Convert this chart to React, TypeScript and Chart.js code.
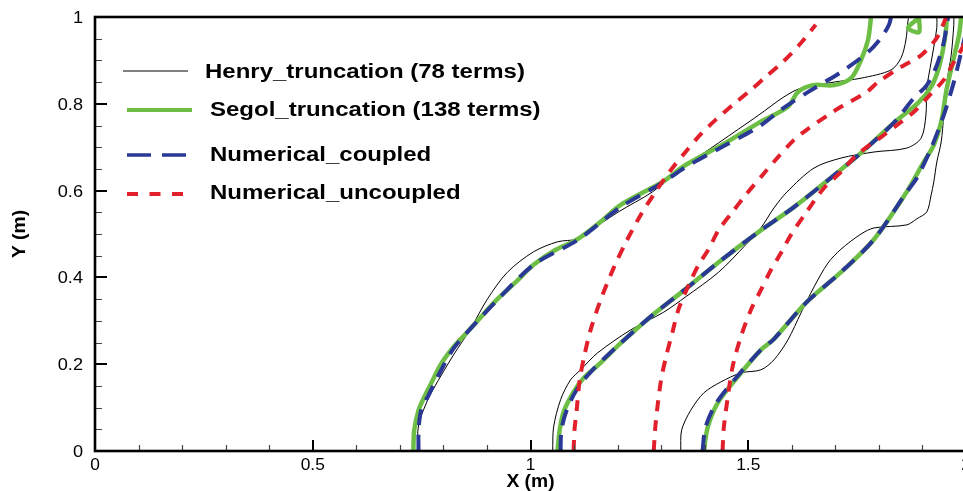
import { useEffect, useRef } from 'react';
import { Chart, registerables } from 'chart.js';

Chart.register(...registerables);

type P = [number, number];

// ---------- tick labels ----------
const xTickValues = [0, 0.5, 1, 1.5, 2];
const xTickLabels = ['0', '0.5', '1', '1.5', '2'];
const yTickValues = [0, 0.2, 0.4, 0.6, 0.8, 1];
const yTickLabels = ['0', '0.2', '0.4', '0.6', '0.8', '1'];

const seriesNames = [
  'Henry_truncation (78 terms)',
  'Segol_truncation (138 terms)',
  'Numerical_coupled',
  'Numerical_uncoupled',
];

// ---------- Henry_truncation (78 terms) ----------
const henry1: P[] = [[0.740, 0], [0.743, 0.060], [0.759, 0.106], [0.777, 0.143], [0.823, 0.221], [0.862, 0.281], [0.901, 0.350], [0.947, 0.412], [1.007, 0.459], [1.062, 0.482], [1.108, 0.488], [1.126, 0.500], [1.202, 0.551], [1.280, 0.597], [1.349, 0.652], [1.432, 0.710], [1.524, 0.774], [1.582, 0.816], [1.621, 0.836], [1.697, 0.850], [1.759, 0.859], [1.828, 0.878], [1.851, 0.906], [1.862, 0.947], [1.867, 0.993], [1.869, 1.0]];
const henry2: P[] = [[1.051, 0], [1.053, 0.055], [1.069, 0.118], [1.092, 0.164], [1.115, 0.187], [1.154, 0.226], [1.230, 0.279], [1.306, 0.320], [1.356, 0.355], [1.432, 0.412], [1.494, 0.475], [1.529, 0.514], [1.559, 0.560], [1.589, 0.597], [1.651, 0.652], [1.713, 0.675], [1.789, 0.689], [1.864, 0.698], [1.897, 0.721], [1.908, 0.774], [1.910, 0.836], [1.920, 0.896], [1.933, 0.975], [1.933, 1.0]];
const henry3: P[] = [[1.345, 0], [1.347, 0.048], [1.368, 0.094], [1.398, 0.134], [1.437, 0.159], [1.483, 0.180], [1.529, 0.187], [1.559, 0.210], [1.591, 0.256], [1.621, 0.318], [1.651, 0.378], [1.683, 0.433], [1.713, 0.465], [1.759, 0.500], [1.789, 0.514], [1.864, 0.521], [1.887, 0.535], [1.910, 0.551], [1.920, 0.590], [1.926, 0.620], [1.933, 0.666], [1.943, 0.712], [1.949, 0.774], [1.956, 0.850], [1.966, 0.912], [1.972, 0.982], [1.972, 1.0]];

// ---------- Segol_truncation (138 terms) ----------
const segol1: P[] = [[0.731, 0], [0.733, 0.048], [0.743, 0.094], [0.754, 0.120], [0.770, 0.152], [0.793, 0.198], [0.821, 0.237], [0.855, 0.274], [0.890, 0.313], [0.924, 0.350], [0.966, 0.389], [1.007, 0.429], [1.057, 0.463], [1.108, 0.488], [1.161, 0.528], [1.207, 0.567], [1.303, 0.620], [1.356, 0.659], [1.448, 0.710], [1.524, 0.756], [1.591, 0.793], [1.614, 0.827], [1.648, 0.843], [1.697, 0.843], [1.736, 0.859], [1.759, 0.901], [1.775, 0.947], [1.782, 1.0]];
const segol1b: P[] = [[1.892, 0.998], [1.867, 0.975], [1.892, 0.965], [1.892, 0.998]];
const segol2: P[] = [[1.062, 0], [1.067, 0.048], [1.076, 0.090], [1.099, 0.136], [1.122, 0.168], [1.161, 0.203], [1.202, 0.244], [1.280, 0.313], [1.356, 0.373], [1.432, 0.435], [1.524, 0.505], [1.605, 0.562], [1.683, 0.624], [1.759, 0.687], [1.834, 0.756], [1.890, 0.802], [1.920, 0.839], [1.936, 0.878], [1.947, 0.924], [1.954, 0.970], [1.956, 1.0]];
const segol3: P[] = [[1.398, 0], [1.407, 0.055], [1.430, 0.111], [1.476, 0.171], [1.529, 0.233], [1.559, 0.258], [1.634, 0.343], [1.713, 0.412], [1.789, 0.488], [1.864, 0.597], [1.903, 0.666], [1.926, 0.705], [1.943, 0.758], [1.956, 0.836], [1.972, 0.906], [1.984, 0.959], [1.989, 1.0]];

// ---------- Numerical_coupled ----------
const coupled1: P[] = [[0.743, 0], [0.743, 0.048], [0.749, 0.094], [0.766, 0.129], [0.789, 0.175], [0.821, 0.233], [0.855, 0.274], [0.924, 0.348], [1.007, 0.429], [1.108, 0.486], [1.207, 0.562], [1.303, 0.618], [1.356, 0.654], [1.448, 0.705], [1.524, 0.747], [1.575, 0.786], [1.637, 0.827], [1.713, 0.873], [1.775, 0.919], [1.805, 0.952], [1.823, 0.982], [1.828, 1.0]];
const coupled2: P[] = [[1.069, 0], [1.071, 0.048], [1.083, 0.094], [1.106, 0.141], [1.138, 0.182], [1.202, 0.244], [1.280, 0.313], [1.356, 0.373], [1.432, 0.435], [1.524, 0.505], [1.605, 0.562], [1.683, 0.624], [1.759, 0.687], [1.834, 0.756], [1.880, 0.813], [1.910, 0.843], [1.933, 0.889], [1.949, 0.942], [1.956, 0.982], [1.959, 1.0]];
const coupled3: P[] = [[1.395, 0], [1.402, 0.055], [1.427, 0.111], [1.474, 0.171], [1.529, 0.233], [1.559, 0.258], [1.634, 0.343], [1.713, 0.412], [1.789, 0.488], [1.864, 0.597], [1.887, 0.629], [1.920, 0.698], [1.949, 0.774], [1.972, 0.850], [1.989, 0.919], [2.0, 0.965]];

// ---------- Numerical_uncoupled ----------
const uncoupled1: P[] = [[1.099, 0], [1.101, 0.048], [1.106, 0.094], [1.113, 0.164], [1.124, 0.221], [1.138, 0.279], [1.161, 0.348], [1.191, 0.422], [1.218, 0.479], [1.253, 0.544], [1.287, 0.597], [1.322, 0.647], [1.356, 0.689], [1.391, 0.730], [1.425, 0.763], [1.464, 0.797], [1.506, 0.832], [1.540, 0.862], [1.579, 0.896], [1.621, 0.940], [1.655, 0.982]];
const uncoupled2: P[] = [[1.283, 0], [1.287, 0.060], [1.299, 0.159], [1.310, 0.212], [1.326, 0.274], [1.340, 0.327], [1.363, 0.382], [1.386, 0.429], [1.409, 0.465], [1.432, 0.509], [1.464, 0.551], [1.494, 0.590], [1.533, 0.636], [1.563, 0.671], [1.605, 0.717], [1.634, 0.740], [1.683, 0.774], [1.713, 0.793], [1.772, 0.827], [1.798, 0.850], [1.851, 0.885], [1.897, 0.912], [1.933, 0.952], [1.954, 0.998]];
const uncoupled3: P[] = [[1.441, 0], [1.444, 0.055], [1.453, 0.124], [1.464, 0.194], [1.483, 0.263], [1.506, 0.325], [1.529, 0.371], [1.552, 0.417], [1.575, 0.456], [1.598, 0.498], [1.634, 0.551], [1.674, 0.606], [1.713, 0.643], [1.749, 0.682], [1.811, 0.728], [1.851, 0.758], [1.880, 0.781], [1.913, 0.816], [1.949, 0.855], [1.972, 0.896], [1.989, 0.924], [2.0, 0.947]];

const BLACK = '#000000';
const GREEN = '#6dbe45';
const BLUE = '#2a3896';
const RED = '#e1202b';

const toXY = (a: P[]) => a.map(([x, y]) => ({ x, y }));

function styleFor(kind: number) {
  if (kind === 0) return { borderColor: BLACK, borderWidth: 1, borderDash: [] as number[], order: 3 };
  if (kind === 1) return { borderColor: GREEN, borderWidth: 4.5, borderDash: [] as number[], order: 2 };
  if (kind === 2) return { borderColor: BLUE, borderWidth: 4, borderDash: [16, 10], order: 1 };
  return { borderColor: RED, borderWidth: 4, borderDash: [11, 9], order: 0 };
}

const groups: [number, P[][]][] = [
  [0, [henry1, henry2, henry3]],
  [1, [segol1, segol1b, segol2, segol3]],
  [2, [coupled1, coupled2, coupled3]],
  [3, [uncoupled1, uncoupled2, uncoupled3]],
];

function stretchedText(ctx: CanvasRenderingContext2D, text: string, x: number, y: number, sx: number, align: CanvasTextAlign) {
  ctx.save();
  ctx.translate(x, y);
  ctx.scale(sx, 1);
  ctx.textAlign = align;
  ctx.textBaseline = 'alphabetic';
  ctx.fillText(text, 0, 0);
  ctx.restore();
}

const decorPlugin = {
  id: 'decor',
  afterDatasetsDraw(chart: any) {
    const ctx: CanvasRenderingContext2D = chart.ctx;
    const a = chart.chartArea;
    const xs = chart.scales.x;
    const ys = chart.scales.y;
    ctx.save();
    // minor ticks (inward)
    ctx.strokeStyle = '#444';
    ctx.lineWidth = 1.2;
    ctx.beginPath();
    for (let i = 0; i <= 20; i++) {
      if (i % 5 === 0) continue;
      const px = Math.round(xs.getPixelForValue(i / 10)) + 0.5;
      ctx.moveTo(px, a.bottom);
      ctx.lineTo(px, a.bottom - 6);
    }
    for (let i = 0; i <= 20; i++) {
      if (i % 4 === 0) continue;
      const py = Math.round(ys.getPixelForValue(i / 20)) + 0.5;
      ctx.moveTo(a.left, py);
      ctx.lineTo(a.left + 7, py);
    }
    ctx.stroke();
    // major ticks
    ctx.strokeStyle = '#000';
    ctx.lineWidth = 2;
    ctx.beginPath();
    xTickValues.forEach((v) => {
      const px = Math.round(xs.getPixelForValue(v));
      ctx.moveTo(px, a.bottom);
      ctx.lineTo(px, a.bottom - 11);
    });
    yTickValues.forEach((v) => {
      const py = Math.round(ys.getPixelForValue(v));
      ctx.moveTo(a.left, py);
      ctx.lineTo(a.left + 12, py);
    });
    ctx.stroke();
    // frame
    ctx.lineWidth = 2.6;
    ctx.strokeRect(a.left, a.top, a.right - a.left, a.bottom - a.top);

    // tick labels
    ctx.fillStyle = '#000';
    ctx.font = '16.5px "Liberation Sans", Arial, sans-serif';
    xTickValues.forEach((v, i) => {
      stretchedText(ctx, xTickLabels[i], xs.getPixelForValue(v), a.bottom + 19, 1.05, 'center');
    });
    yTickValues.forEach((v, i) => {
      stretchedText(ctx, yTickLabels[i], a.left - 12, ys.getPixelForValue(v) + 6, 1.1, 'right');
    });

    // axis titles
    ctx.font = 'bold 18px "Liberation Sans", Arial, sans-serif';
    stretchedText(ctx, 'X (m)', (a.left + a.right) / 2, 487, 1.07, 'center');
    ctx.save();
    ctx.translate(25, (a.top + a.bottom) / 2);
    ctx.rotate(-Math.PI / 2);
    stretchedText(ctx, 'Y (m)', 0, 0, 1.07, 'center');
    ctx.restore();

    // legend
    const rows = [
      { kind: 0, x0: 123, x1: 188, ly: 71, tx: 205, ty: 77.5 },
      { kind: 1, x0: 127, x1: 192, ly: 110, tx: 210, ty: 115.5 },
      { kind: 2, x0: 127, x1: 187, ly: 155, tx: 210, ty: 160.5 },
      { kind: 3, x0: 127, x1: 183, ly: 194, tx: 210, ty: 199 },
    ];
    rows.forEach((r, i) => {
      const s = styleFor(r.kind);
      ctx.save();
      ctx.strokeStyle = s.borderColor;
      ctx.lineWidth = r.kind === 0 ? 1 : r.kind === 2 ? 3.5 : 4;
      ctx.setLineDash(r.kind === 2 ? [24, 11] : r.kind === 3 ? [11, 11.5] : []);
      ctx.beginPath();
      ctx.moveTo(r.x0, r.ly);
      ctx.lineTo(r.x1, r.ly);
      ctx.stroke();
      ctx.restore();
      ctx.fillStyle = '#000';
      ctx.font = 'bold 19.5px "Liberation Sans", Arial, sans-serif';
      stretchedText(ctx, seriesNames[i], r.tx, r.ty, 1.23, 'left');
    });
    ctx.restore();
  },
};

export default function App() {
  const ref = useRef<HTMLCanvasElement | null>(null);
  useEffect(() => {
    if (!ref.current) return;
    const datasets: any[] = [];
    groups.forEach(([kind, curves]) => {
      const s = styleFor(kind);
      curves.forEach((c) => {
        datasets.push({
          data: toXY(c),
          showLine: true,
          pointRadius: 0,
          pointHoverRadius: 0,
          fill: false,
          tension: 0.3,
          borderCapStyle: 'butt',
          ...s,
        });
      });
    });
    const chart = new Chart(ref.current, {
      type: 'scatter',
      data: { datasets },
      options: {
        animation: false,
        responsive: false,
        devicePixelRatio: 1,
        layout: { padding: { left: 95, top: 17, right: 9, bottom: 40 } },
        plugins: { legend: { display: false }, tooltip: { enabled: false } },
        events: [],
        scales: {
          x: { type: 'linear', min: 0, max: 2, display: false },
          y: { type: 'linear', min: 0, max: 1, display: false },
        },
      },
      plugins: [decorPlugin],
    });
    return () => chart.destroy();
  }, []);
  return (
    <div style={{ position: 'fixed', left: 0, top: 0, width: 963, height: 491, overflow: 'hidden', background: '#fff' }}>
      <canvas ref={ref} width={975} height={491} style={{ display: 'block' }} />
    </div>
  );
}
